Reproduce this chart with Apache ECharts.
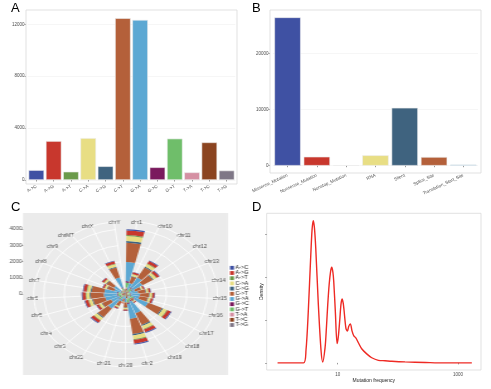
<!DOCTYPE html>
<html><head><meta charset="utf-8">
<script src="https://cdn.jsdelivr.net/npm/echarts@6/dist/echarts.min.js"></script>
<style>
html,body{margin:0;padding:0;background:#fff;overflow:hidden;}
#main{position:absolute;left:0;top:0;width:491px;height:389px;}
#polar{position:absolute;left:0;top:195px;width:210px;height:194px;transform:scaleX(1.26);transform-origin:0 0;}
</style></head><body>
<div id="main"></div><div id="polar"></div>
<script>
// ---------- Panel A: mutation types ----------
const mutTypes = ['A->C','A->G','A->T','C->A','C->G','C->T','G->A','G->C','G->T','T->A','T->C','T->G'];
const mutCounts = [760, 3000, 640, 3230, 1060, 12470, 12340, 980, 3190, 590, 2900, 730];
const mutColors = ['#3F51A3','#C8372D','#6B9A4A','#E8DE84','#3F637F','#B4603A','#5CA8D3','#7A1A5E','#6FBE6A','#D590A3','#8B4420','#7F7787'];
const aTicks = [0, 4000, 8000, 12000];

// ---------- Panel B: variant classification ----------
const varClasses = ['Missense_Mutation','Nonsense_Mutation','Nonstop_Mutation','RNA','Silent','Splice_Site','Translation_Start_Site'];
const varCounts = [26400, 1600, 60, 1850, 10300, 1550, 200];
const varColors = ['#3F51A3','#C8372D','#ECEBDF','#E8DE84','#3F637F','#B4603A','#5CA8D3'];
const bTicks = [0, 10000, 20000];

// ---------- Panel C: per-chromosome counts by mutation type ----------
const chromosomes = ['chr1','chr10','chr11','chr12','chr13','chr14','chr15','chr16','chr17','chr18','chr19','chr2','chr20','chr21','chr22','chr3','chr4','chr5','chr6','chr7','chr8','chr9','chrMT','chrX','chrY'];
const cAC = [72, 25, 43, 36, 18, 23, 26, 25, 45, 13, 47, 57, 19, 11, 18, 41, 29, 37, 39, 38, 22, 25, 5, 38, 5];
const cAG = [287, 102, 171, 145, 72, 90, 104, 101, 181, 50, 187, 227, 76, 43, 72, 162, 115, 148, 155, 151, 86, 101, 18, 153, 22];
const cAT = [60, 21, 36, 30, 15, 19, 22, 21, 38, 11, 39, 47, 16, 9, 15, 34, 24, 31, 32, 32, 18, 21, 4, 32, 5];
const cCA = [307, 109, 183, 155, 77, 96, 112, 108, 193, 54, 200, 243, 81, 46, 77, 173, 123, 158, 166, 162, 92, 108, 19, 164, 23];
const cCG = [100, 35, 60, 50, 25, 31, 36, 35, 63, 18, 65, 79, 26, 15, 25, 56, 40, 51, 54, 53, 30, 35, 6, 53, 8];
const cCT = [1189, 420, 709, 599, 298, 373, 432, 417, 748, 209, 775, 939, 313, 179, 298, 671, 477, 611, 641, 626, 358, 417, 75, 635, 89];
const cGA = [1177, 416, 702, 593, 295, 369, 428, 413, 740, 207, 767, 929, 310, 177, 295, 664, 472, 605, 634, 620, 354, 413, 74, 628, 89];
const cGC = [92, 32, 55, 46, 23, 29, 33, 32, 58, 16, 60, 72, 24, 14, 23, 52, 37, 47, 49, 48, 28, 32, 6, 49, 7];
const cGT = [303, 107, 181, 153, 76, 95, 110, 106, 191, 53, 198, 239, 80, 46, 76, 171, 122, 156, 163, 160, 91, 106, 19, 162, 23];
const cTA = [56, 20, 33, 28, 14, 18, 20, 20, 35, 10, 36, 44, 15, 8, 14, 32, 22, 29, 30, 29, 17, 20, 4, 30, 4];
const cTC = [275, 97, 164, 139, 69, 86, 100, 97, 173, 48, 179, 217, 72, 41, 69, 155, 110, 141, 148, 145, 83, 97, 17, 147, 21];
const cTG = [68, 24, 40, 34, 17, 21, 25, 24, 43, 12, 44, 54, 18, 10, 17, 38, 27, 35, 37, 36, 20, 24, 4, 36, 5];
const cTicks = [0, 1000, 2000, 3000, 4000];

// ---------- Panel D: mutation frequency density ----------
const freqVals = [1, 2.7, 2.97, 3.24, 3.56, 3.75, 3.93, 4.1, 4.31, 4.76, 5.27, 5.62, 6.15, 6.5, 6.82, 7.2, 7.6, 7.94, 8.3, 8.58, 9.12, 9.75, 10.2, 10.8, 11.3, 11.8, 12.3, 12.7, 13.7, 14.5, 15.2, 16.2, 17.3, 18.5, 20.1, 22, 25, 30.3, 36.7, 47.3, 61, 79, 131, 283, 607, 1690];
const densVals = [0, 0, 0.03, 0.12, 0.25, 0.312, 0.332, 0.315, 0.268, 0.136, 0.03, 0.002, 0.035, 0.085, 0.136, 0.183, 0.213, 0.223, 0.212, 0.19, 0.12, 0.045, 0.06, 0.1, 0.136, 0.149, 0.14, 0.124, 0.08, 0.074, 0.085, 0.091, 0.074, 0.063, 0.058, 0.047, 0.033, 0.021, 0.012, 0.006, 0.005, 0.0038, 0.0023, 0.001, 0, 0];
const dXTicks = [10, 1000];
const dYTicks = [0, 0.1, 0.2, 0.3];

const FONT = 'Liberation Sans';
const TXT = '#4D4D4D';
const TICK = {color: '#333333', width: 0.5};
const FRAME = '#D9D9D9';

const main = echarts.init(document.getElementById('main'), null, {renderer: 'canvas'});
main.setOption({
  animation: false,
  textStyle: {fontFamily: FONT},
  grid: [
    {left: 27.7, top: 10, width: 207.6, height: 174},
    {left: 272.9, top: 10, width: 205.1, height: 163},
    {left: 266.7, top: 213.3, width: 214.3, height: 156.7, show: true, borderColor: FRAME, borderWidth: 0.8, backgroundColor: '#FFFFFF'}
  ],
  xAxis: [
    {gridIndex: 0, type: 'category', data: mutTypes,
     axisLine: {show: false},
     axisTick: {show: true, alignWithLabel: true, length: 1.5, lineStyle: TICK},
     axisLabel: {interval: 0, rotate: 30, fontSize: 4.5, color: TXT, margin: 2},
     splitLine: {show: false}},
    {gridIndex: 1, type: 'category', data: varClasses,
     axisLine: {show: false},
     axisTick: {show: true, alignWithLabel: true, length: 1.5, lineStyle: TICK},
     axisLabel: {interval: 0, rotate: 25, fontSize: 4.5, color: TXT, margin: 2},
     splitLine: {show: false}},
    {gridIndex: 2, type: 'log', logBase: 10, min: 0.66, max: 2400,
     axisLine: {show: false},
     axisTick: {show: true, length: 1.5, lineStyle: TICK, customValues: dXTicks},
     axisLabel: {fontSize: 4.5, color: TXT, margin: 2, customValues: dXTicks,
       formatter: v => dXTicks.some(t => Math.abs(v - t) < 1e-6) ? String(Math.round(v)) : ''},
     splitLine: {show: false},
     name: 'Mutation frequency', nameLocation: 'middle', nameGap: 4.5,
     nameTextStyle: {fontSize: 5, color: '#222', fontFamily: FONT}}
  ],
  yAxis: [
    {gridIndex: 0, type: 'value', min: -308, max: 13102, offset: 1.7,
     axisLine: {show: false},
     axisTick: {show: true, length: 1.5, lineStyle: TICK, customValues: aTicks},
     axisLabel: {fontSize: 4.5, color: TXT, margin: 1.5, customValues: aTicks,
       formatter: v => aTicks.indexOf(v) >= 0 ? String(v) : ''},
     splitLine: {show: true, lineStyle: {color: '#F0F0F0', width: 0.6}}},
    {gridIndex: 1, type: 'value', min: -1299, max: 27705, offset: 2.9,
     axisLine: {show: false},
     axisTick: {show: true, length: 1.5, lineStyle: TICK, customValues: bTicks},
     axisLabel: {fontSize: 4.5, color: TXT, margin: 1.5, customValues: bTicks,
       formatter: v => bTicks.indexOf(v) >= 0 ? String(v) : ''},
     splitLine: {show: true, lineStyle: {color: '#F0F0F0', width: 0.6}}},
    {gridIndex: 2, type: 'value', min: -0.0166, max: 0.349,
     axisLine: {show: false},
     axisTick: {show: true, length: 1.5, lineStyle: TICK, customValues: dYTicks},
     axisLabel: {show: false},
     splitLine: {show: false},
     name: 'Density', nameLocation: 'middle', nameGap: 2.5, nameRotate: 90,
     nameTextStyle: {fontSize: 5, color: '#222', fontFamily: FONT}}
  ],
  series: [
    {type: 'bar', xAxisIndex: 0, yAxisIndex: 0, barCategoryGap: '10%',
     data: mutCounts.map((v, i) => ({value: v, itemStyle: {color: mutColors[i]}})),
     itemStyle: {borderColor: '#EDEDED', borderWidth: 0.6}},
    {type: 'bar', xAxisIndex: 1, yAxisIndex: 1, barCategoryGap: '10%',
     data: varCounts.map((v, i) => ({value: v, itemStyle: {color: varColors[i]}})),
     itemStyle: {borderColor: '#EDEDED', borderWidth: 0.6}},
    {type: 'line', xAxisIndex: 2, yAxisIndex: 2, showSymbol: false, smooth: 0.3,
     data: freqVals.map((f, i) => [f, densVals[i]]),
     lineStyle: {color: '#EE2A24', width: 1.4}}
  ],
  graphic: [
    {type: 'rect', shape: {x: 26, y: 10, width: 211, height: 174}, style: {fill: 'none', stroke: FRAME, lineWidth: 0.8}, z: 10},
    {type: 'rect', shape: {x: 270, y: 10, width: 211, height: 163}, style: {fill: 'none', stroke: FRAME, lineWidth: 0.8}, z: 10},
    {type: 'text', left: 11, top: 1.5, style: {text: 'A', fontSize: 13, fontFamily: FONT, fill: '#000'}},
    {type: 'text', left: 252, top: 1.5, style: {text: 'B', fontSize: 13, fontFamily: FONT, fill: '#000'}},
    {type: 'text', left: 11, top: 200.5, style: {text: 'C', fontSize: 13, fontFamily: FONT, fill: '#000'}},
    {type: 'text', left: 252, top: 200.5, style: {text: 'D', fontSize: 13, fontFamily: FONT, fill: '#000'}}
  ]
});

// ---------- Panel C (polar, horizontally stretched like the reference) ----------
const cByType = [cAC, cAG, cAT, cCA, cCG, cCT, cGA, cGC, cGT, cTA, cTC, cTG];
const polarSeries = [];
for (let i = mutTypes.length - 1; i >= 0; i--) {
  polarSeries.push({
    type: 'bar', coordinateSystem: 'polar', stack: 'all', name: mutTypes[i],
    data: cByType[i], barCategoryGap: '10%', itemStyle: {color: mutColors[i]}
  });
}
const RMAX = 4490;
const pc = echarts.init(document.getElementById('polar'), null, {renderer: 'canvas'});
pc.setOption({
  animation: false,
  textStyle: {fontFamily: FONT},
  polar: {center: [99.6, 99], radius: 72.9},
  angleAxis: {type: 'category', data: chromosomes, startAngle: 82.8, clockwise: true, boundaryGap: false,
    axisLine: {show: false}, axisTick: {show: false},
    axisLabel: {fontSize: 4.5, color: TXT, margin: -3.5},
    splitLine: {show: true, lineStyle: {color: '#FFFFFF', width: 0.8}}},
  radiusAxis: {type: 'value', min: 0, max: RMAX, interval: 1000,
    axisLine: {show: false}, axisTick: {show: false}, axisLabel: {show: false},
    splitLine: {show: true, lineStyle: {color: '#FFFFFF', width: 0.8}}},
  grid: {left: 18.25, top: 26.1, width: 1, height: 72.9},
  xAxis: {type: 'value', show: false, min: 0, max: 1},
  yAxis: {type: 'value', min: 0, max: RMAX,
    axisLine: {show: false},
    axisTick: {show: true, length: 1.2, lineStyle: TICK, customValues: cTicks},
    axisLabel: {fontSize: 4.5, color: TXT, margin: 0.8, customValues: cTicks,
      formatter: v => cTicks.indexOf(v) >= 0 ? String(v) : ''},
    splitLine: {show: false}},
  legend: {data: mutTypes, orient: 'vertical', left: 182.5, top: 70.3, padding: 0,
    itemWidth: 3.2, itemHeight: 3.8, itemGap: 0.2, icon: 'rect', selectedMode: false,
    textStyle: {fontSize: 4.5, color: '#222', fontFamily: FONT, padding: [0, 0, 0, -4]}},
  graphic: [
    {type: 'rect', z: -10, shape: {x: 18.25, y: 18, width: 162.7, height: 162}, style: {fill: '#EBEBEB'}}
  ],
  series: polarSeries
});
</script></body></html>
